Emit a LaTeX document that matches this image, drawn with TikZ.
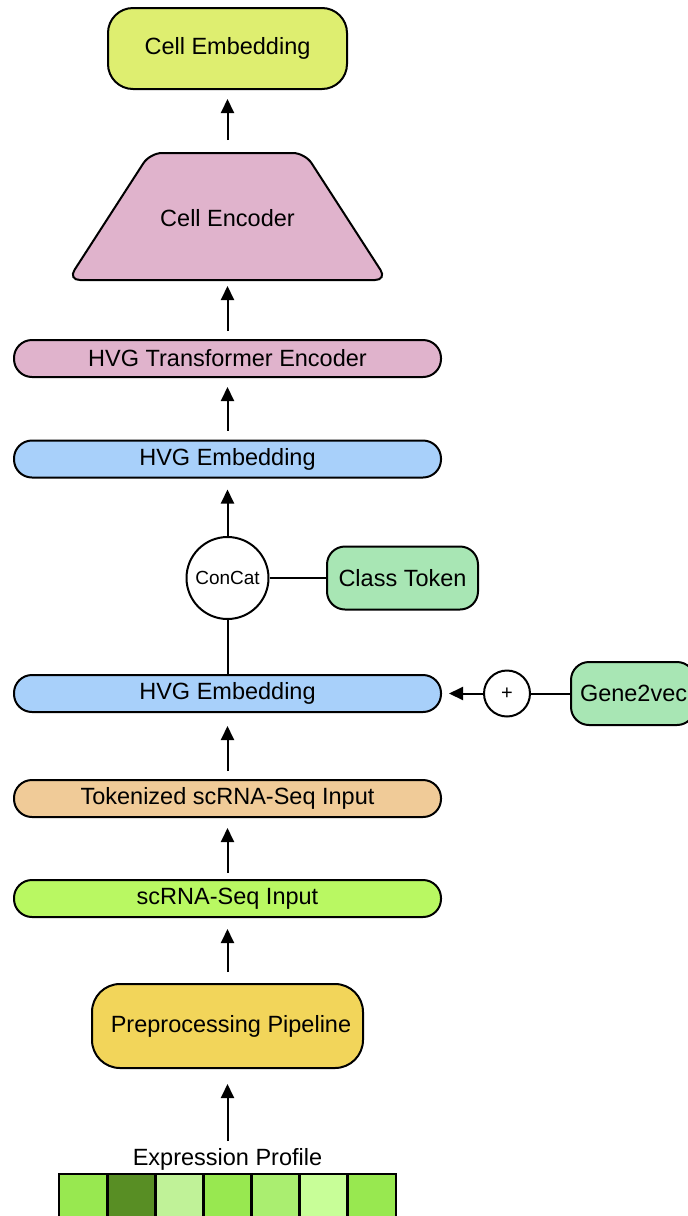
\documentclass[tikz,border=0pt]{standalone}
\usepackage{fontspec}
\setmainfont{Liberation Sans}
\usetikzlibrary{arrows.meta}
\definecolor{cembc}{HTML}{DEEE70}
\definecolor{pinkc}{HTML}{E0B3CC}
\definecolor{bluec}{HTML}{A8D0FA}
\definecolor{mintc}{HTML}{A8E6B4}
\definecolor{tanc}{HTML}{F0CB98}
\definecolor{limec}{HTML}{B9F862}
\definecolor{yelc}{HTML}{F2D55A}
\definecolor{ga}{HTML}{98E850}
\definecolor{gb}{HTML}{588E24}
\definecolor{gc}{HTML}{C0F298}
\definecolor{gd}{HTML}{AAEE70}
\definecolor{ge}{HTML}{C8FE98}
\begin{document}
\begin{tikzpicture}[x=1pt,y=-1pt,
  lbl/.style={font=\fontsize{23.5}{26}\selectfont},
  pill/.style={draw=black, line width=2pt, rounded corners=18pt, minimum width=427pt, minimum height=37pt, inner sep=0pt, lbl},
  rbox/.style={draw=black, line width=2pt, inner sep=0pt, lbl},
  circ/.style={draw=black, fill=white, line width=2pt, circle, inner sep=0pt},
  arr/.style={-{Triangle[length=14pt,width=13pt]}, line width=2pt},
  ln/.style={line width=2pt},
  cell/.style={draw=black, line width=2.8pt}
]
\useasboundingbox (0,0) rectangle (688,1216);
\clip (0,0) rectangle (688,1216);
\fill[white] (0,0) rectangle (688,1216);

% Cell Embedding
\node[rbox, fill=cembc, rounded corners=25pt, minimum width=239pt, minimum height=81pt] (cemb) at (227.5,48.5) {Cell Embedding};

% Cell Encoder trapezoid
\draw[line width=2pt, fill=pinkc, rounded corners=12pt] (68,280) -- (150,153) -- (305,153) -- (387,280) -- cycle;
\node[lbl] (enc) at (227.5,218) {Cell Encoder};
\coordinate (enctop) at (227.5,153);
\coordinate (encbot) at (227.5,280);

% pills
\node[pill, fill=pinkc] (te) at (227.5,358.5) {HVG Transformer Encoder};
\node[pill, fill=bluec] (emb1) at (227.5,459) {HVG Embedding};
\node[pill, fill=bluec] (emb2) at (227.5,693.5) {HVG Embedding};
\node[pill, fill=tanc] (tok) at (227.5,798.5) {Tokenized scRNA-Seq Input};
\node[pill, fill=limec] (scr) at (227.5,898.5) {scRNA-Seq Input};

% ConCat and class token
\node[circ, minimum size=82pt, font=\fontsize{19}{22}\selectfont] (cc) at (227.5,578) {ConCat};
\node[rbox, fill=mintc, rounded corners=18pt, minimum width=151pt, minimum height=63pt] (cls) at (402.5,578) {Class Token};

% plus and Gene2vec
\node[circ, minimum size=46pt, font=\fontsize{20}{22}\selectfont] (plus) at (507,693.5) {+};
\node[rbox, fill=mintc, rounded corners=18pt, minimum width=124pt, minimum height=63pt, text width=124pt, align=left] (gene) at (633,693.5) {\hspace*{9pt}Gene2vec};

% Preprocessing
\node[rbox, fill=yelc, rounded corners=28pt, minimum width=271pt, minimum height=84pt] (pre) at (227.5,1026) {\hspace*{7pt}Preprocessing Pipeline};

% Expression profile
\node[lbl] (expr) at (227.5,1159) {Expression Profile};
\coordinate (exptop) at (227.5,1141);
\foreach \c [count=\i from 0] in {ga,gb,gc,ga,gd,ge,ga} {
  \draw[cell, fill=\c] ({59+48.14*\i},1174) rectangle ({59+48.14*(\i+1)},1240);
}

% connectors
\draw[arr, shorten >=15pt] (exptop) -- (pre.south);
\draw[arr, shorten <=11pt, shorten >=11pt] (pre.north) -- (scr.south);
\draw[arr, shorten <=6pt, shorten >=10pt] (scr.north) -- (tok.south);
\draw[arr, shorten <=8pt, shorten >=13pt] (tok.north) -- (emb2.south);
\draw[ln] (emb2.north) -- (cc.south);
\draw[arr, shorten >=11pt] (cc.north) -- (emb1.south);
\draw[ln] (cc.east) -- (cls.west);
\draw[ln] (gene.west) -- (plus.east);
\draw[arr, shorten >=7pt] (plus.west) -- (emb2.east);
\draw[arr, shorten <=9pt, shorten >=9pt] (emb1.north) -- (te.south);
\draw[arr, shorten <=8pt, shorten >=6pt] (te.north) -- (encbot);
\draw[arr, shorten <=13pt, shorten >=9pt] (enctop) -- (cemb.south);
\end{tikzpicture}
\end{document}
